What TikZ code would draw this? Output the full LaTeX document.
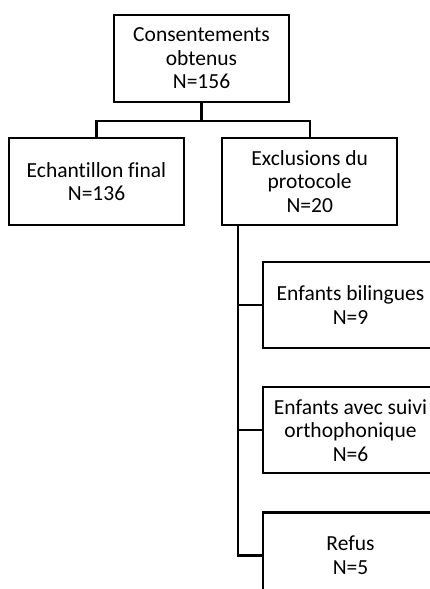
\documentclass[tikz,border=0pt]{standalone}
\usepackage{fontspec}
\setmainfont{Carlito}[Ligatures=NoCommon]
\usepackage{tikz}
\usetikzlibrary{positioning}

\tikzset{
  boite/.style={draw, line width=2.2pt, align=center, minimum width=175pt, minimum height=87pt,
    inner sep=2pt, font=\fontsize{21.5}{23.5}\selectfont},
  lien/.style={line width=2.2pt}
}

\begin{document}
\begin{tikzpicture}[x=1pt, y=-1pt]
        \useasboundingbox (0,0) rectangle (430,589);
        \clip (0,0) rectangle (430,589);

        \node (cons) [boite] at (201.5,58.5) {Consentements\\obtenus\\N=156};
        \node (final) [boite] at (96.5,181.5) {Echantillon final\\N=136};
        \node (excl) [boite, right=36pt of final] {Exclusions du\\protocole\\N=20};

        \node (bil) [boite, minimum height=86pt] at (350.5,305) {Enfants bilingues\\N=9};
        \node (ortho) [boite, minimum height=86pt, below=37pt of bil] {Enfants avec suivi\\orthophonique\\N=6};
        \node (refus) [boite, minimum height=86pt, below=37pt of ortho] {Refus\\N=5};

        \draw[lien] (cons.south) -- ++(0,18) -| (final.north);
        \draw[lien] (cons.south) -- ++(0,18) -| (excl.north);

        \coordinate (tronc) at ([xshift=17pt]excl.south west);
        \draw[lien] (tronc) |- (refus.west);
        \draw[lien] (tronc |- bil.west) -- (bil.west);
        \draw[lien] (tronc |- ortho.west) -- (ortho.west);
      \end{tikzpicture}
\end{document}
